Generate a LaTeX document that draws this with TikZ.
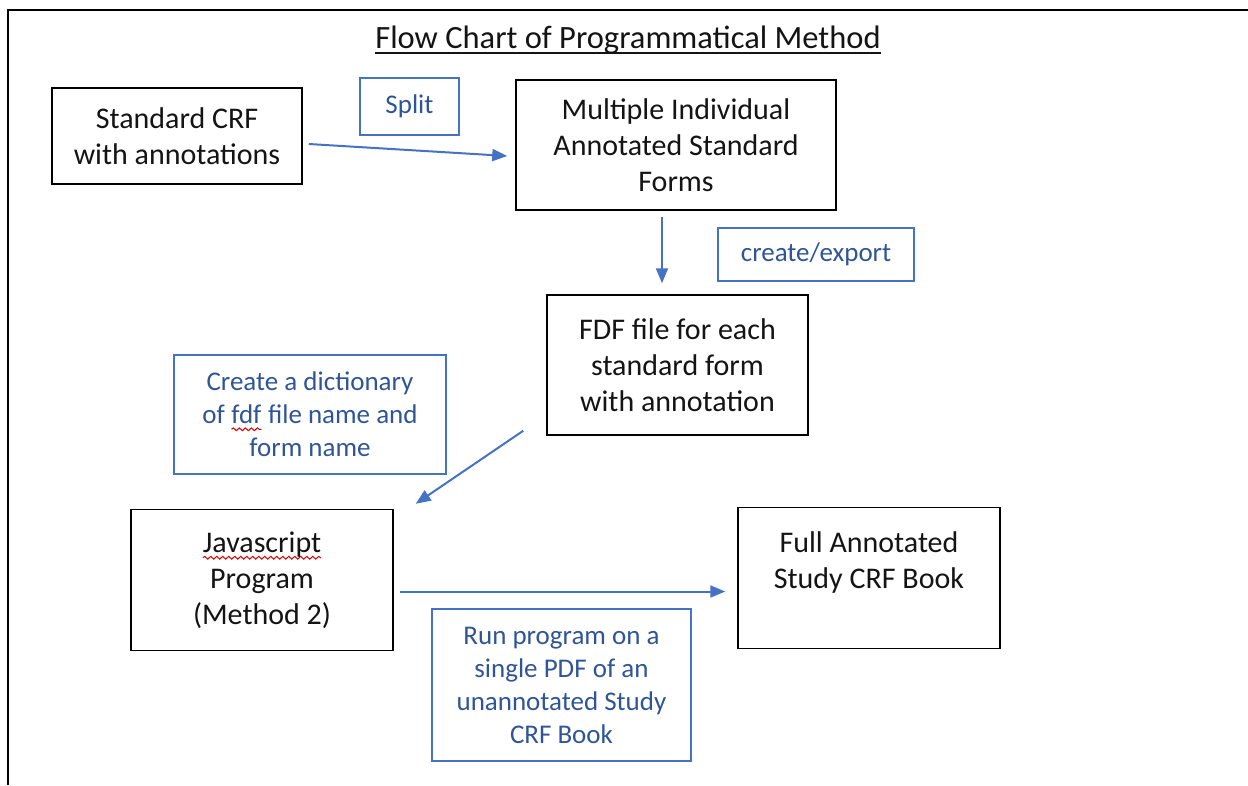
\documentclass[tikz,border=0pt]{standalone}
\usepackage{fontspec}
\setmainfont{Carlito}
\usetikzlibrary{arrows.meta,decorations.pathmorphing}

\definecolor{inkblack}{HTML}{141414}
\definecolor{noteblue}{HTML}{2F5597}
\definecolor{lineblue}{HTML}{4472C4}

% red wavy spell-check mark under a word
\newcommand\spellmark[1]{\tikz[baseline=(w.base)]{%
  \node[shape=rectangle,draw=none,fill=none,inner sep=0pt,outer sep=0pt,
        minimum width=0pt,minimum height=0pt] (w) {#1};
  \draw[red!85!black,line width=1pt,decorate,
        decoration={snake,amplitude=1.4pt,segment length=6pt}]
    ([yshift=-5.5pt]w.base west) -- ([yshift=-5.5pt]w.base east);}}

\tikzset{
  stepbox/.style={draw=black,line width=1.5pt,inner sep=0pt,align=center,
    text=inkblack,font=\fontsize{30}{36}\selectfont},
  notebox/.style={draw=lineblue,line width=1.3pt,inner sep=0pt,align=center,
    text=noteblue,font=\fontsize{27}{33}\selectfont},
  flow/.style={draw=lineblue,line width=2pt,
    -{Triangle[length=15pt,width=12pt]}},
}

\begin{document}
\begin{tikzpicture}[x=1pt,y=-1pt]
\useasboundingbox (0,0) rectangle (1248,785);

% page frame (top and left edges)
\draw[line width=2.2pt] (8,785) -- (8,10) -- (1248,10);

% title
\node[inner sep=0pt,text=inkblack,font=\fontsize{32.5}{38}\selectfont,anchor=base]
  (title) at (628,48.5) {Flow Chart of Programmatical Method};
\draw[line width=1.3pt,inkblack] ([yshift=-4.5pt]title.base west) -- ([yshift=-4.5pt]title.base east);

% process steps
\node[stepbox,minimum width=250pt,minimum height=96pt] (crf) at (177,136)
  {Standard CRF\\with annotations};
\node[stepbox,minimum width=320pt,minimum height=130pt] (multi) at (676,145)
  {Multiple Individual\\Annotated Standard\\Forms};
\node[stepbox,minimum width=261pt,minimum height=140pt] (fdf) at (677.5,365)
  {FDF file for each\\standard form\\with annotation};
\node[stepbox,minimum width=262pt,minimum height=141pt] (js) at (262,580)
  {\spellmark{Javascript}\\Program\\(Method 2)};
\node[stepbox,minimum width=262pt,minimum height=141pt] (full) at (869,578)
  {Full Annotated\\Study CRF Book\\\phantom{X}};

% notes on the transitions
\node[notebox,minimum width=99pt,minimum height=57pt] (split) at (409.5,106.5)
  {Split};
\node[notebox,minimum width=196pt,minimum height=53pt] (export) at (816,254.5)
  {create/export};
\node[notebox,minimum width=272pt,minimum height=119pt] (dict) at (310,414.5)
  {Create a dictionary\\of \spellmark{fdf} file name and\\form name};
\node[notebox,minimum width=259pt,minimum height=152pt] (run) at (561.5,685)
  {Run program on a\\single PDF of an\\unannotated Study\\CRF Book};

% connectors
\draw[flow] ([shift={(6,8)}]crf.east) -- ([shift={(-8,11)}]multi.west);
\draw[flow] ([shift={(-14,6)}]multi.south) -- ([shift={(-15.5,-11)}]fdf.north);
\draw[flow] ([shift={(-23,-5)}]fdf.south west) -- ([shift={(22,-5)}]js.north east);
\draw[flow] ([shift={(6,11.5)}]js.east) -- ([shift={(-12,13.5)}]full.west);
\end{tikzpicture}
\end{document}
